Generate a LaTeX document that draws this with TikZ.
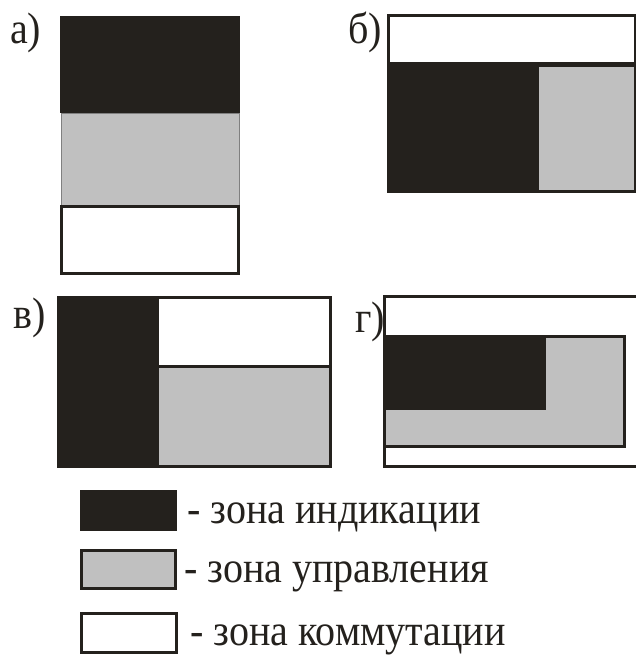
\documentclass[tikz,border=0pt]{standalone}
\usepackage{fontspec}
\setmainfont{Liberation Serif}
\newfontfamily\zonefont[FakeStretch=0.91]{Liberation Serif}
\definecolor{zoneink}{HTML}{24211D}
\definecolor{zonegray}{HTML}{C0C0C0}
\tikzset{
  ind/.style={fill=zoneink},
  ctl/.style={fill=zonegray, draw=zoneink, line width=3pt},
  ctlthin/.style={fill=zonegray, draw=gray, line width=0.8pt},
  com/.style={fill=white, draw=zoneink, line width=3pt},
  lbl/.style={anchor=base west, inner sep=0pt, font=\zonefont\fontsize{44}{52}\selectfont, text=zoneink},
}
\begin{document}
\begin{tikzpicture}[x=1pt, y=-1pt]
\useasboundingbox (0,0) rectangle (636,657);
% panel a
\fill[ind] (60,16) rectangle (240,113);
\path[ctlthin] (61,113) rectangle (239,206);
\path[com] (61.5,206) rectangle (238.5,273.5);
\node[lbl] (la) at (10,43) {а)};
% panel b
\path[com] (388.5,15.5) rectangle (635,63);
\fill[ind] (387,63) rectangle (537,193);
\path[ctl] (537,65) rectangle (635,191);
\node[lbl] (lb) at (348,43) {б)};
% panel v
\fill[ind] (57,296) rectangle (157,468);
\path[com] (157,297.5) rectangle (330.5,366);
\path[ctl] (157,366) rectangle (330.5,466.5);
\node[lbl] (lv) at (13,328) {в)};
% panel g
\path[com] (384.5,296.5) rectangle (637,466.5);
\path[ctl] (384.5,336) rectangle (624.5,446);
\fill[ind] (383,334.5) rectangle (546,410);
\node[lbl] (lg) at (355,332) {г)};
% legend
\fill[ind] (80,490) rectangle (177,531);
\node[lbl] (t1) at (187,523) {- зона индикации};
\path[ctl] (81.5,550) rectangle (175,588);
\node[lbl] (t2) at (184,582) {- зона управления};
\path[com] (81.5,613) rectangle (176,652);
\node[lbl] (t3) at (190,645) {- зона коммутации};
\end{tikzpicture}
\end{document}
